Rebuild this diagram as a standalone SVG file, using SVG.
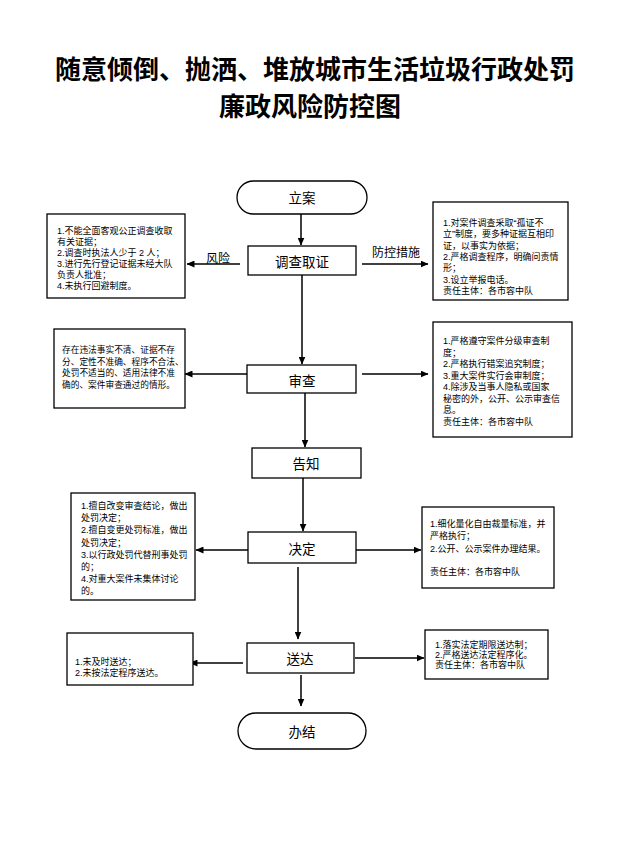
<svg xmlns="http://www.w3.org/2000/svg" width="628" height="843" viewBox="0 0 628 843">
<defs>
<marker id="ah" markerWidth="8" markerHeight="7" refX="7.5" refY="3.5" orient="auto" markerUnits="userSpaceOnUse">
<path d="M0,0 L8,3.5 L0,7 Z" fill="#000"/>
</marker>
<style>
.t{font-family:"Noto Sans CJK SC","Noto Sans",sans-serif;fill:#000;dominant-baseline:central}
.title{font-size:26px;font-weight:700;text-anchor:middle}
.lbl{font-size:13.5px;text-anchor:middle}
.side{font-size:12px;text-anchor:middle}
.s,.s2{font-family:"Liberation Sans","Noto Sans CJK SC",sans-serif}
.s{font-size:9px}
.s2{font-size:8.7px}
.box{fill:#fff;stroke:#000;stroke-width:1.3}
.c{stroke:#000;stroke-width:1.5;fill:none;marker-end:url(#ah)}
</style>
</defs>
<rect width="628" height="843" fill="#fff"/>
<g id="title">
<text class="t title" x="315" y="67">随意倾倒、抛洒、堆放城市生活垃圾行政处罚</text>
<text class="t title" x="310" y="104">廉政风险防控图</text>
</g>
<g id="connectors">
<line class="c" x1="301" y1="214" x2="301" y2="245"/>
<line class="c" x1="240" y1="264" x2="187" y2="264"/>
<line class="c" x1="362" y1="264" x2="428" y2="264"/>
<line class="c" x1="302" y1="275" x2="302" y2="364"/>
<line class="c" x1="250" y1="374" x2="185" y2="374"/>
<line class="c" x1="362" y1="374" x2="428" y2="374"/>
<line class="c" x1="305" y1="393" x2="305" y2="447"/>
<line class="c" x1="303" y1="478" x2="303" y2="531"/>
<line class="c" x1="248" y1="550" x2="196" y2="550"/>
<line class="c" x1="356" y1="550" x2="421" y2="550"/>
<line class="c" x1="298" y1="567" x2="298" y2="639"/>
<line class="c" x1="243" y1="663" x2="190" y2="663"/>
<line class="c" x1="355" y1="658" x2="424" y2="658"/>
<line class="c" x1="301" y1="675" x2="301" y2="706"/>
<text class="t side" x="218" y="257">风险</text>
<text class="t side" x="396" y="251">防控措施</text>
</g>
<g id="n-lian">
<rect class="box" x="237" y="181" width="130" height="33" rx="16.5"/>
<text class="t lbl" x="302" y="197">立案</text>
</g>
<g id="n-diaocha">
<rect class="box" x="248" y="246" width="108" height="29"/>
<text class="t lbl" x="302" y="261">调查取证</text>
</g>
<g id="n-shencha">
<rect class="box" x="247" y="365" width="109" height="28"/>
<text class="t lbl" x="302" y="380">审查</text>
</g>
<g id="n-gaozhi">
<rect class="box" x="252" y="448" width="109" height="30"/>
<text class="t lbl" x="306" y="463">告知</text>
</g>
<g id="n-jueding">
<rect class="box" x="248" y="532" width="108" height="31"/>
<text class="t lbl" x="302" y="548">决定</text>
</g>
<g id="n-songda">
<rect class="box" x="247" y="643" width="107" height="30"/>
<text class="t lbl" x="300" y="658">送达</text>
</g>
<g id="n-banjie">
<rect class="box" x="238" y="713" width="128" height="36" rx="18"/>
<text class="t lbl" x="302" y="731">办结</text>
</g>
<g id="risk-1">
<rect class="box" x="47" y="214" width="138" height="84"/>
<text class="t s" y="231"><tspan x="57">1.不能全面客观公正调查收取</tspan><tspan x="57" dy="11">有关证据；</tspan><tspan x="57" dy="11">2.调查时执法人少于 2 人；</tspan><tspan x="57" dy="11">3.进行先行登记证据未经大队</tspan><tspan x="57" dy="11">负责人批准；</tspan><tspan x="57" dy="11">4.未执行回避制度。</tspan></text>
</g>
<g id="ctrl-1">
<rect class="box" x="433" y="202" width="135" height="98"/>
<text class="t s" y="223"><tspan x="443">1.对案件调查采取“孤证不</tspan><tspan x="443" dy="11.3">立”制度，要多种证据互相印</tspan><tspan x="443" dy="11.3">证，以事实为依据；</tspan><tspan x="443" dy="11.3">2.严格调查程序，明确问责情</tspan><tspan x="443" dy="11.3">形；</tspan><tspan x="443" dy="11.3">3.设立举报电话。</tspan><tspan x="443" dy="11.3">责任主体：各市容中队</tspan></text>
</g>
<g id="risk-2">
<rect class="box" x="54" y="329" width="131" height="79"/>
<text class="t s2" y="350"><tspan x="62">存在违法事实不清、证据不存</tspan><tspan x="62" dy="11.5">分、定性不准确、程序不合法、</tspan><tspan x="62" dy="11.5">处罚不适当的、适用法律不准</tspan><tspan x="62" dy="11.5">确的、案件审查通过的情形。</tspan></text>
</g>
<g id="ctrl-2">
<rect class="box" x="433" y="322" width="139" height="115"/>
<text class="t s" y="341"><tspan x="443">1.严格遵守案件分级审查制</tspan><tspan x="443" dy="11.5">度；</tspan><tspan x="443" dy="11.5">2.严格执行错案追究制度；</tspan><tspan x="443" dy="11.5">3.重大案件实行会审制度；</tspan><tspan x="443" dy="11.5">4.除涉及当事人隐私或国家</tspan><tspan x="443" dy="11.5">秘密的外，公开、公示审查信</tspan><tspan x="443" dy="11.5">息。</tspan><tspan x="443" dy="11.5">责任主体：各市容中队</tspan></text>
</g>
<g id="risk-3">
<rect class="box" x="71" y="493" width="124" height="107"/>
<text class="t s" y="506"><tspan x="81">1.擅自改变审查结论，做出</tspan><tspan x="81" dy="12.2">处罚决定；</tspan><tspan x="81" dy="12.2">2.擅自变更处罚标准，做出</tspan><tspan x="81" dy="12.2">处罚决定；</tspan><tspan x="81" dy="12.2">3.以行政处罚代替刑事处罚</tspan><tspan x="81" dy="12.2">的；</tspan><tspan x="81" dy="12.2">4.对重大案件未集体讨论</tspan><tspan x="81" dy="12.2">的。</tspan></text>
</g>
<g id="ctrl-3">
<rect class="box" x="422" y="507" width="132" height="81"/>
<text class="t s" y="524"><tspan x="430">1.细化量化自由裁量标准，并</tspan><tspan x="430" dy="12">严格执行；</tspan><tspan x="430" dy="12.5">2.公开、公示案件办理结果。</tspan><tspan x="430" dy="23">责任主体：各市容中队</tspan></text>
</g>
<g id="risk-4">
<rect class="box" x="67" y="633" width="126" height="52"/>
<text class="t s" y="662"><tspan x="75">1.未及时送达；</tspan><tspan x="75" dy="11">2.未按法定程序送达。</tspan></text>
</g>
<g id="ctrl-4">
<rect class="box" x="425" y="630" width="123" height="49"/>
<text class="t s" y="644.5"><tspan x="435">1.落实法定期限送达制；</tspan><tspan x="435" dy="10.3">2.严格送达法定程序化。</tspan><tspan x="435" dy="10.3">责任主体：各市容中队</tspan></text>
</g>
</svg>
